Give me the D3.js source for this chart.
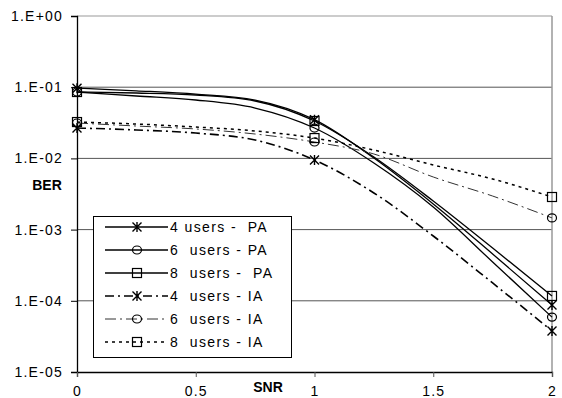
<!DOCTYPE html>
<html>
<head>
<meta charset="utf-8">
<script src="https://cdn.jsdelivr.net/npm/d3@7"></script>
<style>
  body { margin: 0; background: #fff; }
  svg text { font-family: "Liberation Sans", Arial, sans-serif; fill: #000; }
</style>
</head>
<body>
<svg id="chart" width="562" height="398"></svg>
<script>
// SNR values where the curves were sampled
const snr = [0, 0.25, 0.5, 0.75, 1, 1.25, 1.5, 1.75, 2];
// markers are only shown at these SNR values
const markerSnr = [0, 1, 2];

const ber4PA = [0.097, 0.089, 0.080, 0.066, 0.035, 0.0101, 0.00229, 4.54e-4, 8.7e-5];
const ber6PA = [0.0856, 0.0752, 0.0661, 0.051, 0.0267, 0.00862, 0.00208, 3.51e-4, 5.9e-5];
const ber8PA = [0.0856, 0.0829, 0.0777, 0.064, 0.0335, 0.01046, 0.00252, 5.51e-4, 1.17e-4];
const ber4IA = [0.0267, 0.0251, 0.0227, 0.0181, 0.0095, 0.00327, 8.13e-4, 1.78e-4, 3.77e-5];
const ber6IA = [0.0314, 0.0285, 0.0259, 0.022, 0.017, 0.01153, 0.00548, 0.00296, 0.00146];
const ber8IA = [0.0324, 0.0304, 0.0276, 0.0243, 0.0193, 0.0131, 0.00808, 0.00514, 0.00287];

const seriesNames = ["4 users -  PA", "6  users - PA", "8  users -  PA",
                     "4  users - IA", "6  users - IA", "8  users - IA"];
const yTicks = [1, 1e-1, 1e-2, 1e-3, 1e-4, 1e-5];
const yTickLabels = ["1.E+00", "1.E-01", "1.E-02", "1.E-03", "1.E-04", "1.E-05"];
const xTicks = [0, 0.5, 1, 1.5, 2];
const xTickLabels = ["0", "0.5", "1", "1.5", "2"];

const series = [
  { name: seriesNames[0], values: ber4PA, marker: "star",   dash: null,        color: "#000", w: 1.3 },
  { name: seriesNames[1], values: ber6PA, marker: "circle", dash: null,        color: "#000", w: 1.3 },
  { name: seriesNames[2], values: ber8PA, marker: "square", dash: null,        color: "#000", w: 1.3 },
  { name: seriesNames[3], values: ber4IA, marker: "star",   dash: "9,4,2,4",   color: "#000", w: 1.6 },
  { name: seriesNames[4], values: ber6IA, marker: "circle", dash: "11,4,2,4",  color: "#333", w: 1 },
  { name: seriesNames[5], values: ber8IA, marker: "square", dash: "3,4",       color: "#000", w: 1.5 }
];

const svg = d3.select("#chart");
const margin = { left: 77, top: 16, right: 10, bottom: 26 };
const width = 562, height = 398;

const xScale = d3.scaleLinear().domain([0, 2]).range([margin.left, width - margin.right]);
const yScale = d3.scaleLog().domain([1e-5, 1]).range([height - margin.bottom, margin.top]);

const x0 = xScale(0), x1 = xScale(2), yTop = yScale(1), yBot = yScale(1e-5);

// gridlines
svg.append("g")
   .selectAll("line")
   .data(yTicks.slice(0, -1))
   .enter()
   .append("line")
     .attr("x1", x0).attr("x2", x1)
     .attr("y1", d => yScale(d)).attr("y2", d => yScale(d))
     .attr("stroke", d => d === 1 ? "#999" : "#555")
     .attr("stroke-width", 1);

// right border
svg.append("line")
   .attr("x1", x1).attr("x2", x1).attr("y1", yTop).attr("y2", yBot)
   .attr("stroke", "#999").attr("stroke-width", 1.5);

// axes
const yAxis = d3.axisLeft(yScale)
                .tickValues(yTicks)
                .tickFormat((d, i) => yTickLabels[i])
                .tickSize(6)
                .tickPadding(8);
const xAxis = d3.axisBottom(xScale)
                .tickValues(xTicks)
                .tickFormat((d, i) => xTickLabels[i])
                .tickSize(5)
                .tickPadding(9);

const gy = svg.append("g")
              .attr("transform", `translate(${x0}, 0)`)
              .call(yAxis);
const gx = svg.append("g")
              .attr("transform", `translate(0, ${yBot})`)
              .call(xAxis);
[gx, gy].forEach(g => {
  g.select(".domain").attr("stroke", "#000").attr("stroke-width", 1.3);
  g.selectAll(".tick line").attr("stroke", "#000");
  g.selectAll("text")
   .style("font-family", "Liberation Sans, Arial, sans-serif")
   .style("font-size", "14px")
   .style("letter-spacing", "1.2px");
});
gx.selectAll(".tick line").attr("stroke", "#555");

svg.append("text")
   .attr("x", 47).attr("y", 190)
   .attr("text-anchor", "middle")
   .style("font-size", "14px").style("font-weight", "bold")
   .text("BER");
svg.append("text")
   .attr("x", 268).attr("y", 392)
   .attr("text-anchor", "middle")
   .style("font-size", "14px").style("font-weight", "bold")
   .text("SNR");

// lines
const line = d3.line()
               .x(d => xScale(d.x))
               .y(d => yScale(d.y))
               .curve(d3.curveMonotoneX);

const drawMarker = (g, type, cx, cy, color) => {
  if (type === "star") {
    g.append("path")
     .attr("d", `M${cx - 4.5},${cy - 4.5}L${cx + 4.5},${cy + 4.5}M${cx - 4.5},${cy + 4.5}L${cx + 4.5},${cy - 4.5}M${cx},${cy - 5}L${cx},${cy + 5}`)
     .attr("stroke", color).attr("stroke-width", 1.4).attr("fill", "none");
  } else if (type === "circle") {
    g.append("ellipse")
     .attr("cx", cx).attr("cy", cy).attr("rx", 4.5).attr("ry", 4)
     .attr("stroke", color).attr("stroke-width", 1.2).attr("fill", "none");
  } else {
    g.append("rect")
     .attr("x", cx - 4.5).attr("y", cy - 4.5).attr("width", 9).attr("height", 9)
     .attr("stroke", color).attr("stroke-width", 1.2).attr("fill", "none");
  }
};

const plot = svg.append("g");
series.forEach(s => {
  const pts = snr.map((x, i) => ({ x: x, y: s.values[i] }));
  plot.append("path")
      .attr("d", line(pts))
      .attr("fill", "none")
      .attr("stroke", s.color)
      .attr("stroke-width", s.w)
      .attr("stroke-dasharray", s.dash);
  pts.filter(p => markerSnr.includes(p.x))
     .forEach(p => drawMarker(plot, s.marker, xScale(p.x), yScale(p.y), "#000"));
});

// legend
const legend = svg.append("g");
legend.append("rect")
      .attr("x", 93.5).attr("y", 216.5).attr("width", 198).attr("height", 141)
      .attr("fill", "#fff").attr("stroke", "#000").attr("stroke-width", 1);
series.forEach((s, i) => {
  const ly = 227 + i * 23;
  legend.append("line")
        .attr("x1", 105).attr("x2", 168).attr("y1", ly).attr("y2", ly)
        .attr("stroke", s.color)
        .attr("stroke-width", s.w)
        .attr("stroke-dasharray", s.dash);
  drawMarker(legend, s.marker, 137, ly, "#000");
  legend.append("text")
        .attr("x", 170).attr("y", ly + 5)
        .style("font-size", "14px")
        .style("letter-spacing", "1.4px")
        .style("white-space", "pre")
        .text(s.name);
});
</script>
</body>
</html>
